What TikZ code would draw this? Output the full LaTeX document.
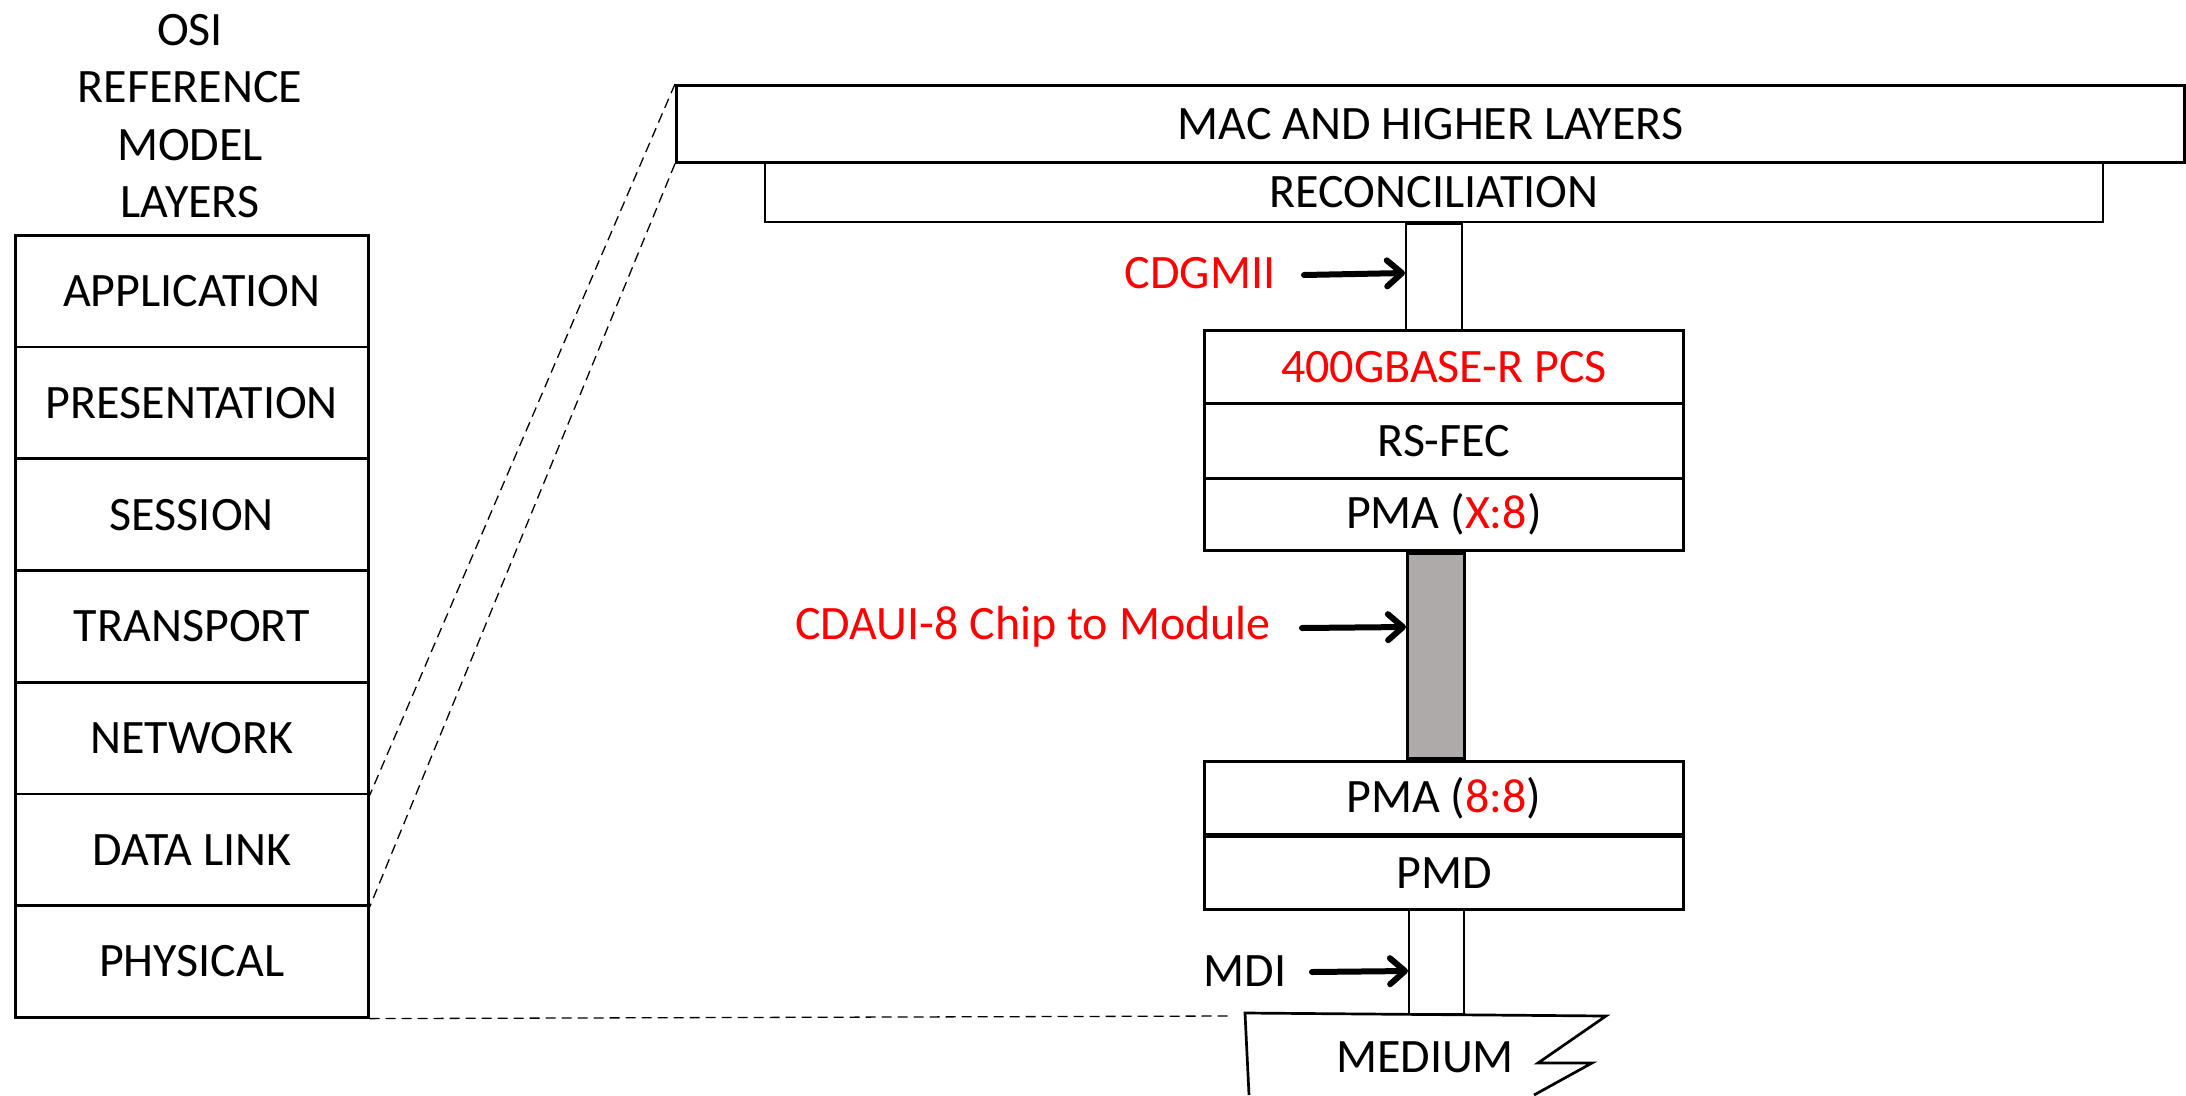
\documentclass[tikz,border=0pt]{standalone}
\usepackage{fontspec}
\setmainfont{Carlito}
\usetikzlibrary{arrows.meta,calc}
\definecolor{pptred}{RGB}{255,0,0}
\definecolor{greyfill}{RGB}{174,170,170}
\begin{document}
\begin{tikzpicture}[x=1pt,y=-1pt,
  lbl/.style={font=\fontsize{48}{57.5}\selectfont, inner sep=0pt},
  layer/.style={draw, line width=2.7pt, inner sep=0pt, font=\fontsize{48}{57.5}\selectfont, anchor=north west},
  thinlayer/.style={layer, line width=2.2pt},
  arr/.style={line width=6pt, line cap=round, -{Straight Barb[length=15pt,width=26pt,line cap=round,line join=round]}},
  zoomline/.style={dash pattern=on 10pt off 6pt, line width=1.3pt}
]
\useasboundingbox (0,0) rectangle (2186,1095);

% OSI column
\node[lbl, align=center] (title) at (190,116) {OSI\\REFERENCE\\MODEL\\LAYERS};
\node[layer, minimum width=353pt, minimum height=111.7pt] (app) at (14,234) {APPLICATION};
\node[layer, minimum width=353pt, minimum height=111.7pt] (pres) at (14,345.7) {PRESENTATION};
\node[layer, minimum width=353pt, minimum height=111.7pt] (sess) at (14,457.4) {SESSION};
\node[layer, minimum width=353pt, minimum height=111.7pt] (trans) at (14,569.1) {TRANSPORT};
\node[layer, minimum width=353pt, minimum height=111.7pt] (net) at (14,680.8) {NETWORK};
\node[layer, minimum width=353pt, minimum height=111.7pt] (dl) at (14,792.5) {DATA LINK};
\node[layer, minimum width=353pt, minimum height=111.7pt] (phys) at (14,904.2) {PHYSICAL};

% Right stack
\node[layer, minimum width=1508pt, minimum height=77pt] (mac) at (675,84) {MAC AND HIGHER LAYERS};
\node[thinlayer, minimum width=1338pt, minimum height=60pt] (recon) at (764,161) {RECONCILIATION};
\node[thinlayer, minimum width=56pt, minimum height=107pt] (gmii) at (1405,223) {};
\node[layer, minimum width=479pt, minimum height=73pt, text=pptred] (pcs) at (1203,329) {400GBASE-R PCS};
\node[layer, minimum width=479pt, minimum height=75pt] (fec) at (1203,402) {RS-FEC};
\node[layer, minimum width=479pt, minimum height=72pt] (pmax) at (1203,477) {PMA ({\color{pptred}X:8})};
\node[layer, fill=greyfill, minimum width=57pt, minimum height=205pt] (c2m) at (1406,552) {};
\node[layer, minimum width=479pt, minimum height=73pt] (pma88) at (1203,760) {PMA ({\color{pptred}8:8})};
\node[layer, minimum width=479pt, minimum height=73pt] (pmd) at (1203,835) {PMD};
\node[thinlayer, minimum width=55pt, minimum height=105pt] (mdibox) at (1408,908) {};

% Medium
\draw[line width=2.7pt, line join=miter] (1249,1095) -- (1245,1013) -- (1606,1016) -- (1538,1063) -- (1592,1063) -- (1534,1095);
\node[lbl] (medium) at (1425,1057) {MEDIUM};

% Labels and arrows
\node[lbl, text=pptred] (cdgmii) at (1200,273) {CDGMII};
\node[lbl, text=pptred] (cdaui) at (1033,627) {CDAUI-8 Chip to Module};
\node[lbl] (mdi) at (1245,971) {MDI};
\draw[arr] (1304,275) -- (gmii.west |- cdgmii);
\draw[arr] (1302,628) -- (c2m.west |- cdaui);
\draw[arr] (1312,972) -- (mdibox.west |- mdi);

% Zoom lines
\coordinate (medl) at (1230,1016);
\draw[zoomline] (mac.north west) -- (net.south east);
\draw[zoomline] (mac.south west) -- (dl.south east);
\draw[zoomline] (phys.south east) -- (medl);
\end{tikzpicture}
\end{document}
